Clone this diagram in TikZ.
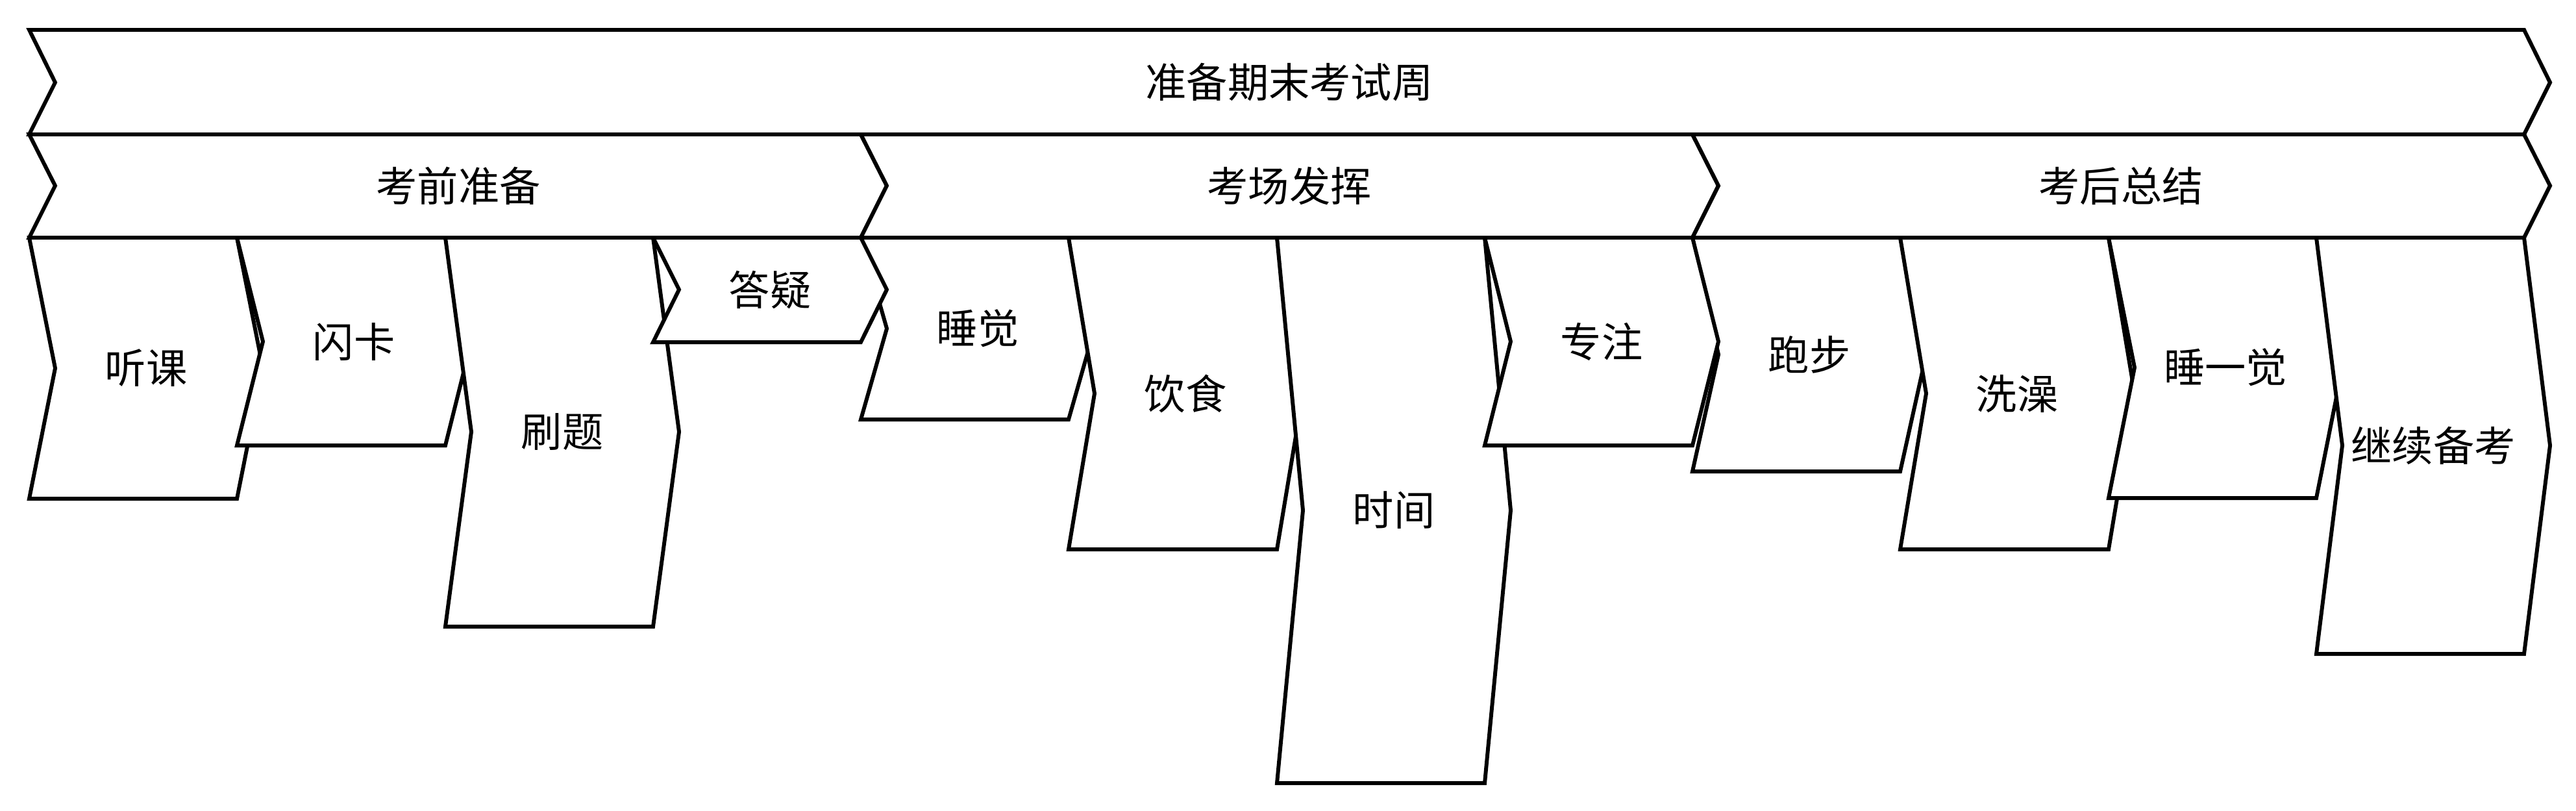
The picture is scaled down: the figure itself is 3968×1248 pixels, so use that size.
\documentclass[tikz,border=0pt]{standalone}
\usepackage{fontspec}
\newfontfamily\cjk{Noto Sans CJK SC}

\begin{document}
\begin{tikzpicture}[x=0.1mm, y=-0.1mm,
  blk/.style={draw, line width=1.7pt, fill=white},
  lbl/.style={font=\cjk\fontsize{18}{20}\selectfont, inner sep=0pt}]
\useasboundingbox (0,0) rectangle (3968,1248);
%
% --- Top bar ---
\draw[blk] (45,46) -- (3888,46) -- (3928,127) -- (3888,207) -- (45,207) -- (85,127) -- cycle;
\node[lbl] (week) at (1986,127) {准备期末考试周};
%
% --- Phases ---
\draw[blk] (45,207) -- (1326,207) -- (1366,286) -- (1326,366) -- (45,366) -- (85,286) -- cycle;
\node[lbl] (prep) at (706,286) {考前准备};
\draw[blk] (1326,207) -- (2607,207) -- (2647,286) -- (2607,366) -- (1326,366) -- (1366,286) -- cycle;
\node[lbl] (exam) at (1986,286) {考场发挥};
\draw[blk] (2607,207) -- (3888,207) -- (3928,286) -- (3888,366) -- (2607,366) -- (2647,286) -- cycle;
\node[lbl] (after) at (3267,286) {考后总结};
%
% --- After the exam ---
\draw[blk] (2607,366) -- (2927,366) -- (2967,546) -- (2927,726) -- (2607,726) -- (2647,546) -- cycle;
\node[lbl] (run) at (2787,546) {跑步};
\draw[blk] (2927,366) -- (3248,366) -- (3288,606) -- (3248,846) -- (2927,846) -- (2967,606) -- cycle;
\node[lbl] (bath) at (3107,606) {洗澡};
\draw[blk] (3248,366) -- (3568,366) -- (3608,566) -- (3568,767) -- (3248,767) -- (3288,566) -- cycle;
\node[lbl] (nap) at (3428,566) {睡一觉};
\draw[blk] (3568,366) -- (3888,366) -- (3928,686) -- (3888,1007) -- (3568,1007) -- (3608,686) -- cycle;
\node[lbl] (review) at (3748,686) {继续备考};
%
% --- In the exam ---
\draw[blk] (1326,366) -- (1646,366) -- (1686,506) -- (1646,646) -- (1326,646) -- (1366,506) -- cycle;
\node[lbl] (sleep) at (1506,506) {睡觉};
\draw[blk] (1646,366) -- (1967,366) -- (2007,606) -- (1967,846) -- (1646,846) -- (1686,606) -- cycle;
\node[lbl] (food) at (1826,606) {饮食};
\draw[blk] (1967,366) -- (2287,366) -- (2327,786) -- (2287,1206) -- (1967,1206) -- (2007,786) -- cycle;
\node[lbl] (time) at (2147,786) {时间};
\draw[blk] (2287,366) -- (2607,366) -- (2647,526) -- (2607,686) -- (2287,686) -- (2327,526) -- cycle;
\node[lbl] (focus) at (2467,526) {专注};
%
% --- Before the exam ---
\draw[blk] (45,366) -- (365,366) -- (405,567) -- (365,768) -- (45,768) -- (85,567) -- cycle;
\node[lbl] (listen) at (225,567) {听课};
\draw[blk] (365,366) -- (686,366) -- (726,526) -- (686,686) -- (365,686) -- (405,526) -- cycle;
\node[lbl] (cards) at (545,526) {闪卡};
\draw[blk] (686,366) -- (1006,366) -- (1046,665) -- (1006,965) -- (686,965) -- (726,665) -- cycle;
\node[lbl] (drill) at (866,665) {刷题};
\draw[blk] (1006,366) -- (1326,366) -- (1366,446) -- (1326,527) -- (1006,527) -- (1046,446) -- cycle;
\node[lbl] (qa) at (1186,446) {答疑};
%
\end{tikzpicture}
\end{document}
